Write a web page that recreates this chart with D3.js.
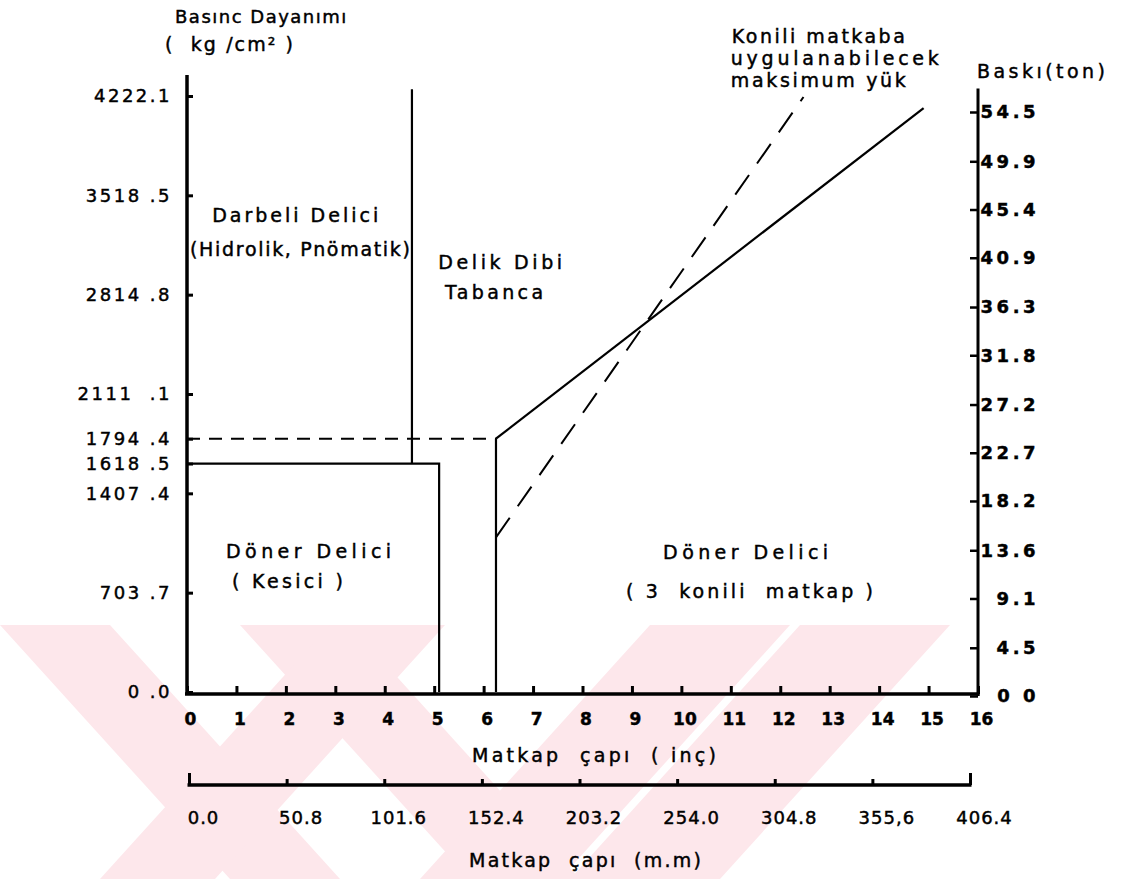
<!DOCTYPE html>
<html><head><meta charset="utf-8">
<script src="https://cdn.jsdelivr.net/npm/d3@7"></script>
<style>
html,body{margin:0;padding:0;background:#fff;}
svg{display:block;}
text{font-family:"DejaVu Sans",sans-serif;fill:#000;stroke:#000;stroke-width:0.45px;white-space:pre;}
</style></head><body>
<svg id="chart" width="1122" height="879"></svg>
<script>
// ---- data ----
const inchTicks = [0,1,2,3,4,5,6,7,8,9,10,11,12,13,14,15,16];
const mmTicks = [0,50.8,101.6,152.4,203.2,254.0,304.8,355.6,406.4];
const mmLabels = ["0.0","50.8","101.6","152.4","203.2","254.0","304.8","355,6","406.4"];
const strengthTicks = [0,703.7,1407.4,1618.5,1794.4,2111.1,2814.8,3518.5,4222.1];
const strengthLabels = ["0 .0","703 .7","1407 .4","1618 .5","1794 .4","2111  .1","2814 .8","3518 .5","4222.1"];
const loadTicks = [0,4.5,9.1,13.6,18.2,22.7,27.2,31.8,36.3,40.9,45.4,49.9,54.5];
const loadLabels = ["0 0","4.5","9.1","13.6","18.2","22.7","27.2","31.8","36.3","40.9","45.4","49.9","54.5"];

// rotary (cutter) region boundary: diameter (in) / strength (kg/cm2)
const rotaryCutter = [[0,1618.5],[5.1,1618.5],[5.1,0]];
// percussive drill upper limit line
const percussiveLine = [[4.55,1618.5],[4.55,4270]];
// down-the-hole hammer limit
const dthDashed = [[0,1794.4],[6.25,1794.4]];
const dthLine = [[6.25,0],[6.25,1794.4]];
// rotary tricone limit (strength)
const triconeLine = [[6.25,1794.4],[14.9,4137]];
// max load on tricone bit (ton, right axis)
const maxLoad = [[6.25,14.8],[12.47,55.9]];

// ---- layout ----
const svg = d3.select("#chart");
const x = d3.scaleLinear([0,16],[187,978]);
const xmm = d3.scaleLinear([0,406.4],[189,970]);
const yL = d3.scaleLinear([0,4222.1],[692,96]);
const yR = d3.scaleLinear([0,54.5],[696,112]);
const axisY = 694, mmY = 785;

// watermark (decorative background)
const watermark = [
  [[0,625],[110,625],[340,879],[230,879]],
  [[240,625],[350,625],[580,879],[470,879]],
  [[330,625],[445,625],[215,879],[100,879]],
  [[650,625],[790,625],[560,879],[420,879]],
  [[800,625],[950,625],[720,879],[570,879]]
];
svg.append("g").selectAll("polygon").data(watermark).join("polygon")
  .attr("points",d=>d.map(p=>p.join(",")).join(" "))
  .attr("fill","#fde7eb");

const line = (sx,sy)=>d3.line().x(d=>sx(d[0])).y(d=>sy(d[1]));

// ---- axes ----
const ink = "#000";
// left axis
const gL = svg.append("g").attr("transform",`translate(${x(0)},0)`)
  .call(d3.axisLeft(yL).tickValues(strengthTicks).tickSizeInner(-6).tickSizeOuter(0).tickPadding(15)
    .tickFormat((d,i)=>strengthLabels[i]));
gL.select(".domain").remove();
gL.selectAll(".tick line").attr("stroke",ink).attr("stroke-width",3);
gL.selectAll(".tick text").attr("font-size",18).attr("letter-spacing",2.5).attr("font-family",null);
svg.append("line").attr("x1",x(0)).attr("x2",x(0)).attr("y1",yL(4370)).attr("y2",axisY+1)
  .attr("stroke",ink).attr("stroke-width",3.5);

// right axis
const gR = svg.append("g").attr("transform",`translate(${x(16)},0)`)
  .call(d3.axisRight(yR).tickValues(loadTicks).tickSizeInner(-8).tickSizeOuter(0).tickPadding(61)
    .tickFormat((d,i)=>loadLabels[i]));
gR.select(".domain").remove();
gR.selectAll(".tick line").attr("stroke",ink).attr("stroke-width",2.5);
gR.selectAll(".tick text").attr("font-size",18).attr("font-weight","bold").attr("letter-spacing",3.5)
  .attr("text-anchor","end").attr("font-family",null);
svg.append("line").attr("x1",x(16)).attr("x2",x(16)).attr("y1",yR(56.7)).attr("y2",axisY+2)
  .attr("stroke",ink).attr("stroke-width",3);

// bottom inch axis
const gB = svg.append("g").attr("transform",`translate(0,${axisY})`)
  .call(d3.axisBottom(x).tickValues(inchTicks).tickSizeInner(-8).tickSizeOuter(0).tickPadding(19)
    .tickFormat(d=>String(d)));
gB.select(".domain").remove();
gB.selectAll(".tick line").attr("stroke",ink).attr("stroke-width",3);
gB.selectAll(".tick text").attr("font-size",17).attr("font-weight","bold").attr("dx",3).attr("font-family",null);
svg.append("line").attr("x1",x(0)-2).attr("x2",x(16)+1.5).attr("y1",axisY).attr("y2",axisY)
  .attr("stroke",ink).attr("stroke-width",3.5);

// mm axis
const gM = svg.append("g").attr("transform",`translate(0,${mmY})`)
  .call(d3.axisBottom(xmm).tickValues(mmTicks).tickSizeInner(-6).tickSizeOuter(0).tickPadding(26)
    .tickFormat((d,i)=>mmLabels[i]));
gM.select(".domain").remove();
gM.selectAll(".tick line").attr("stroke",ink).attr("stroke-width",3)
  .attr("y2",(d,i)=> (i===0||i===mmTicks.length-1) ? -12 : -6);
gM.selectAll(".tick text").attr("font-size",18).attr("letter-spacing",1).attr("dx",14).attr("font-family",null);
svg.append("line").attr("x1",xmm(0)-1.5).attr("x2",xmm(406.4)+1.5).attr("y1",mmY).attr("y2",mmY)
  .attr("stroke",ink).attr("stroke-width",3.5);

// ---- region lines ----
const pL = line(x,yL), pR = line(x,yR);
svg.append("path").attr("d",pL(rotaryCutter)).attr("fill","none").attr("stroke",ink).attr("stroke-width",2.2);
svg.append("path").attr("d",pL(percussiveLine)).attr("fill","none").attr("stroke",ink).attr("stroke-width",2.2);
svg.append("path").attr("d",pL(dthDashed)).attr("fill","none").attr("stroke",ink).attr("stroke-width",2)
  .attr("stroke-dasharray","13,9");
svg.append("path").attr("d",pL(dthLine)).attr("fill","none").attr("stroke",ink).attr("stroke-width",2.2);
svg.append("path").attr("d",pL(triconeLine)).attr("fill","none").attr("stroke",ink).attr("stroke-width",2.2);
svg.append("path").attr("d",pR(maxLoad)).attr("fill","none").attr("stroke",ink).attr("stroke-width",2)
  .attr("stroke-dasharray","24,14");

// ---- annotations (placed in data units) ----
const notes = [
  {t:"Darbeli Delici", x:0.51, y:3330, w:166},
  {t:"(Hidrolik, Pnömatik)", x:0.06, y:3089, w:220},
  {t:"Delik Dibi", x:5.08, y:2997, w:124},
  {t:"Tabanca", x:5.22, y:2784, w:98},
  {t:"Döner Delici", x:0.79, y:949, w:165},
  {t:"( Kesici )", x:0.91, y:737, w:111},
  {t:"Döner Delici", x:9.63, y:942, w:165},
  {t:"( 3  konili  matkap )", x:8.88, y:666, w:247},
  {t:"Konili matkaba", x:11.02, y:4598, w:173},
  {t:"uygulanabilecek", x:11.0, y:4442, w:208},
  {t:"maksimum yük", x:11.0, y:4286, w:175}
];
svg.append("g").selectAll("text").data(notes).join("text")
  .attr("x",d=>x(d.x)).attr("y",d=>yL(d.y))
  .attr("font-size",19)
  .attr("textLength",d=>d.w).attr("lengthAdjust","spacing")
  .text(d=>d.t);

// axis titles
const titles = [
  {t:"Baskı(ton)", px:977, py:78, w:128, fs:19},
  {t:"Matkap  çapı  ( inç)", px:472, py:762, w:244, fs:19},
  {t:"Matkap  çapı  (m.m)", px:469, py:867, w:232, fs:19}
];
svg.append("g").selectAll("text").data(titles).join("text")
  .attr("x",d=>d.px).attr("y",d=>d.py).attr("font-size",d=>d.fs)
  .attr("textLength",d=>d.w).attr("lengthAdjust","spacing")
  .text(d=>d.t);
svg.append("text").attr("x",175).attr("y",23).attr("font-size",18).attr("letter-spacing",1.5)
  .text("Basınc Dayanımı");
svg.append("text").attr("x",165).attr("y",51).attr("font-size",19)
  .attr("textLength",128).attr("lengthAdjust","spacing")
  .text("(  kg /cm² )");
</script>
</body></html>
